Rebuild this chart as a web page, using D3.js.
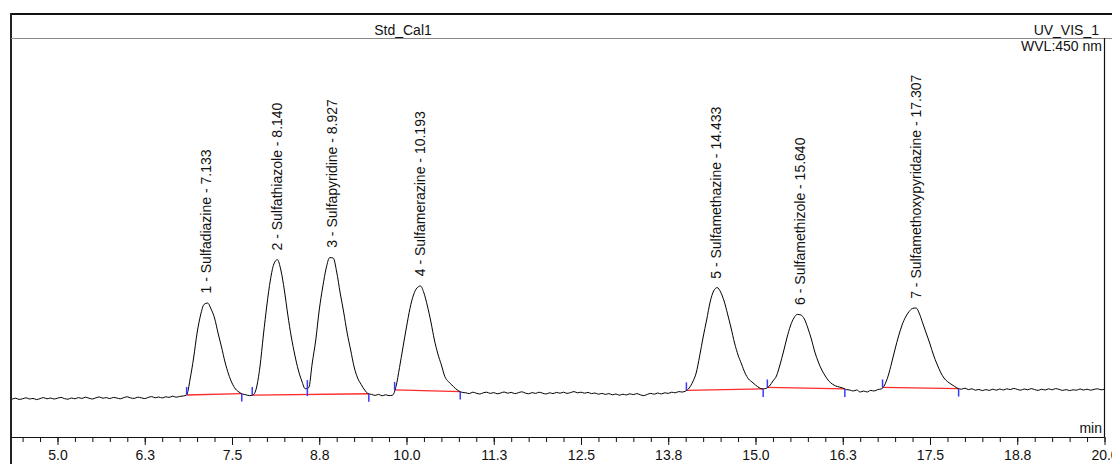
<!DOCTYPE html>
<html>
<head>
<meta charset="utf-8">
<script src="https://cdn.jsdelivr.net/npm/d3@7"></script>
<style>
  html, body { margin: 0; padding: 0; background: #fff; overflow: hidden; }
  svg { display: block; font-family: "Liberation Sans", Arial, sans-serif; }
</style>
</head>
<body>
<svg id="chart" width="1112" height="464"></svg>
<script>
// Std_Cal1 — UV_VIS_1 chromatogram, detector signal sampled every 0.05 min
const traceStart = 4.35;   // min
const traceStep = 0.05;    // min
const signal = [
  0.4,0.9,0.3,0.6,1.1,0.5,0.8,0.2,0.7,1.2, 0.6,1.0,0.5,0.9,1.3,0.7,0.4,1.0,0.6,1.2,
  0.8,1.4,0.9,0.5,1.1,1.5,0.9,1.2,0.7,1.3, 1.0,0.6,1.2,1.6,1.0,0.8,1.4,1.1,0.7,1.3,
  1.7,1.1,1.5,1.0,1.6,1.3,1.9,1.4,1.8,2.0,
  2.5,10.5,21,33.5,42.5,47.8,48.5,45.5,41,33.5,26.5,19,13,8.5,5.5,4,3,
  2.6,2.2,
  2.5,6,16.5,32.5,47.5,60,68,70.2,65,55,42.5,31.5,22.5,15,9.5,5.6,6.2,
  18.5,30,45,56.5,66,71.2,71,64,53.5,44,33.5,25,16.5,11,7.8,5,3.2,2.8,
  2.3,2.8,2.1,2.6,2.2,2.4,
  6.8,16.2,26.5,36.5,45.8,52.5,56,57,53.5,47,39,30,23,17.5,11.7,9.2,7.5,5.8,4.5,3.8,
  3.6,3.2,3.9,3.4,3.0,3.6,3.9,3.3,3.7,3.1, 3.5,4.0,3.4,3.8,3.2,3.6,4.1,3.5,3.1,3.7,
  3.3,3.9,3.4,3.0,3.6,3.2,3.8,3.4,3.9,3.3, 3.7,4.2,3.6,3.9,3.4,3.8,3.2,3.5,2.9,3.3,
  2.8,3.2,2.6,3.0,2.4,2.9,2.5,3.1,2.7,3.2, 2.6,2.2,2.8,3.3,2.9,3.5,3.0,3.6,3.3,3.9,
  3.6,4.2,4.0,
  4.5,6,9,13.5,22,31.5,40,49,54.5,56.2,54,49.5,43,36,28.5,22.5,18,13.5,10.5,9,7.5,6.2,5.5,5.8,
  7,9.5,12,17.5,24,31,37,41,42.8,42.5,40.5,36,30.5,24,19,15,12,9.5,8,7,6.5,6,
  5.2,5,4.5,5,4,4.5,4,4.8,4.5,5.2,5.5,
  7.5,12,18.5,25.5,32,37.5,41.5,44.2,45.8,46,43,38,33,28,22.5,18,14,11,9.2,8,6.8,5.8,
  5.4,5.9,5.2,5.6,4.9,5.3,4.7,5.2,4.8,5.4, 4.9,5.5,5.0,5.6,5.2,5.8,5.3,4.9,5.5,5.1,
  5.7,5.2,4.8,5.4,5.0,5.6,5.1,5.7,5.3,4.8, 5.2,4.7,5.1,4.9,5.5,5.0,5.4,4.9,5.3,5.6,
  5.1,5.4
];

// Identified peaks
const peakNumbers = [1, 2, 3, 4, 5, 6, 7];
const peakNames = ["Sulfadiazine", "Sulfathiazole", "Sulfapyridine", "Sulfamerazine",
                   "Sulfamethazine", "Sulfamethizole", "Sulfamethoxypyridazine"];
const retentionTimes = [7.133, 8.140, 8.927, 10.193, 14.433, 15.640, 17.307];
const peakStarts = [6.85, 7.79, 8.58, 9.83, 14.01, 15.17, 16.82];
const peakEnds   = [7.64, 8.58, 9.46, 10.77, 15.11, 16.28, 17.91];

// Integration baselines (peaks 2 and 3 share one)
const baselineFrom = [6.85, 7.79, 9.83, 14.01, 15.17, 16.82];
const baselineTo   = [7.64, 9.46, 10.77, 15.11, 16.28, 17.91];

// Time axis
const majorTicks = [5.0, 6.25, 7.5, 8.75, 10.0, 11.25, 12.5, 13.75, 15.0, 16.25, 17.5, 18.75, 20.0];
const tickLabels = ["5.0", "6.3", "7.5", "8.8", "10.0", "11.3", "12.5", "13.8", "15.0", "16.3", "17.5", "18.8", "20.0"];
const minorStep = 0.25;

const svg = d3.select("#chart");
const W = 1112, H = 464;
const plotL = 11, plotR = 1104.5, plotT = 38, plotB = 437;

const x = d3.scaleLinear().domain([4.334, 20.0]).range([plotL, plotR]);
const y = d3.scaleLinear().domain([-18.5, 181]).range([plotB, plotT]);

const trace = signal.map((v, i) => ({ t: traceStart + i * traceStep, v }));

function valueAt(t) {
  const p = (t - traceStart) / traceStep;
  const i = Math.max(0, Math.min(signal.length - 2, Math.floor(p)));
  const f = p - i;
  return signal[i] * (1 - f) + signal[i + 1] * f;
}

// Frame
svg.append("line").attr("x1", plotL - 1).attr("x2", W).attr("y1", 14).attr("y2", 14)
  .attr("stroke", "#111").attr("stroke-width", 2);
svg.append("line").attr("x1", plotL).attr("x2", plotL).attr("y1", 13).attr("y2", H)
  .attr("stroke", "#222").attr("stroke-width", 2);
svg.append("line").attr("x1", plotL).attr("x2", W).attr("y1", plotT + 0.5).attr("y2", plotT + 0.5)
  .attr("stroke", "#8a8a8a").attr("stroke-width", 1);
svg.append("line").attr("x1", plotR).attr("x2", plotR).attr("y1", plotT).attr("y2", plotB)
  .attr("stroke", "#111").attr("stroke-width", 1.2);

// Header texts
svg.append("text").attr("x", 403).attr("y", 35).attr("text-anchor", "middle")
  .attr("font-size", 14).attr("fill", "#111").text("Std_Cal1");
svg.append("text").attr("x", 1099).attr("y", 34.5).attr("text-anchor", "end")
  .attr("font-size", 14).attr("fill", "#111").text("UV_VIS_1");
svg.append("text").attr("x", 1102).attr("y", 50.5).attr("text-anchor", "end")
  .attr("font-size", 14).attr("fill", "#111").text("WVL:450 nm");

// X axis
const gMinor = svg.append("g").attr("transform", `translate(0,${plotB})`)
  .call(d3.axisBottom(x).tickValues(d3.range(4.5, 20.001, minorStep)).tickSize(5).tickFormat(""));
gMinor.select(".domain").remove();
gMinor.selectAll(".tick line").attr("stroke", "#111");

const gMajor = svg.append("g").attr("transform", `translate(0,${plotB})`)
  .call(d3.axisBottom(x).tickValues(majorTicks).tickSize(8).tickPadding(5)
    .tickFormat((d, i) => tickLabels[i]));
gMajor.select(".domain").remove();
gMajor.selectAll(".tick line").attr("stroke", "#111");
gMajor.selectAll(".tick text").attr("font-size", 14).attr("fill", "#111")
  .attr("font-family", "\"Liberation Sans\", Arial, sans-serif");

svg.append("line").attr("x1", plotL).attr("x2", plotR).attr("y1", plotB + 0.5).attr("y2", plotB + 0.5)
  .attr("stroke", "#111").attr("stroke-width", 1);
svg.append("text").attr("x", 1102).attr("y", 433).attr("text-anchor", "end")
  .attr("font-size", 14).attr("fill", "#111").text("min");

// Integration baselines
const segLine = d3.line().x(d => x(d[0])).y(d => y(d[1]));
baselineFrom.forEach((t0, i) => {
  const t1 = baselineTo[i];
  svg.append("path")
    .attr("d", segLine([[t0, valueAt(t0)], [t1, valueAt(t1)]]))
    .attr("fill", "none").attr("stroke", "#ff2a2a").attr("stroke-width", 1.3);
});

// Chromatogram trace
svg.append("path")
  .datum(trace)
  .attr("d", d3.line().x(d => x(d.t)).y(d => y(d.v)).curve(d3.curveMonotoneX))
  .attr("fill", "none").attr("stroke", "#000").attr("stroke-width", 1);

// Peak start / end markers
const markColor = "#3a3aff";
peakStarts.forEach(t => {
  const py = y(valueAt(t));
  svg.append("line").attr("x1", x(t)).attr("x2", x(t)).attr("y1", py).attr("y2", py - 8)
    .attr("stroke", markColor).attr("stroke-width", 1.5);
});
peakEnds.forEach(t => {
  const py = y(valueAt(t));
  svg.append("line").attr("x1", x(t)).attr("x2", x(t)).attr("y1", py).attr("y2", py + 8)
    .attr("stroke", markColor).attr("stroke-width", 1.5);
});

// Peak labels
retentionTimes.forEach((rt, i) => {
  const px = x(rt), py = y(valueAt(rt)) - 10;
  svg.append("text")
    .attr("transform", `translate(${px},${py}) rotate(-90)`)
    .attr("dy", "0.35em")
    .attr("text-anchor", "start")
    .attr("font-size", 14).attr("fill", "#111")
    .text(`${peakNumbers[i]} - ${peakNames[i]} - ${rt.toFixed(3)}`);
});
</script>
</body>
</html>
